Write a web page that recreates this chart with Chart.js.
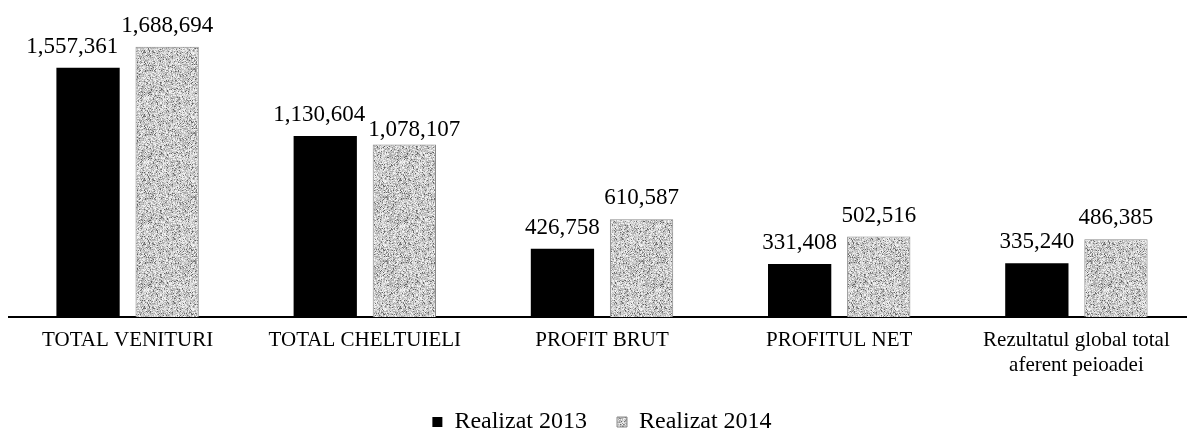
<!DOCTYPE html>
<html>
<head>
<meta charset="utf-8">
<script src="https://cdn.jsdelivr.net/npm/chart.js@4.4.1/dist/chart.umd.min.js"></script>
<style>
  html, body { margin: 0; padding: 0; background: #fff; overflow: hidden; }
  #wrap { width: 1195px; height: 432px; }
</style>
</head>
<body>
<div id="wrap"><canvas id="chart" width="1195" height="432"></canvas></div>
<script>
const categories = ['TOTAL VENITURI', 'TOTAL CHELTUIELI', 'PROFIT BRUT', 'PROFITUL NET', ['Rezultatul global total', 'aferent peioadei']];
const realizat2013 = [1557361, 1130604, 426758, 331408, 335240];
const realizat2014 = [1688694, 1078107, 610587, 502516, 486385];
const seriesLabels = ['Realizat 2013', 'Realizat 2014'];

const SERIF = '"Liberation Serif", "Times New Roman", serif';
const fmt = (v) => new Intl.NumberFormat('en-US').format(v);

// speckled grey fill, like the scanned hatch of the 2014 bars
function speckle() {
  const c = document.createElement('canvas');
  c.width = 64; c.height = 64;
  const g = c.getContext('2d');
  const img = g.createImageData(64, 64);
  const hash = (x, y) => {
    let h = Math.imul(x, 374761393) + Math.imul(y, 668265263) | 0;
    h = Math.imul(h ^ (h >>> 13), 1274126177);
    return ((h ^ (h >>> 16)) >>> 0) / 4294967296;
  };
  for (let y = 0; y < 64; y++) {
    for (let x = 0; x < 64; x++) {
      const r = hash(x, y);
      const v = r < 0.12 ? 90 + r * 500 : 165 + (r - 0.12) * 95;
      const i = (y * 64 + x) * 4;
      img.data[i] = img.data[i + 1] = img.data[i + 2] = v;
      img.data[i + 3] = 255;
    }
  }
  g.putImageData(img, 0, 0);
  return g.createPattern(c, 'repeat');
}

// value labels above bars, nudged apart when the pair collides
const valueLabels = {
  id: 'valueLabels',
  afterDatasetsDraw(chart) {
    const ctx = chart.ctx;
    const m0 = chart.getDatasetMeta(0);
    const m1 = chart.getDatasetMeta(1);
    ctx.save();
    ctx.font = '23px ' + SERIF;
    ctx.fillStyle = '#000';
    ctx.textAlign = 'left';
    ctx.textBaseline = 'alphabetic';
    m0.data.forEach((b0, i) => {
      const b1 = m1.data[i];
      const t0 = fmt(realizat2013[i]);
      const t1 = fmt(realizat2014[i]);
      const w0 = ctx.measureText(t0).width;
      const w1 = ctx.measureText(t1).width;
      let x0 = b0.x - w0 / 2, y0 = b0.y - 15;
      let x1 = b1.x - w1 / 2, y1 = b1.y - 15;
      const over = x0 + w0 + 3 - x1;
      if (Math.abs(y0 - y1) < 17 && over > 0) {
        const s = Math.min(6, over / 2);
        x0 -= s;
        x1 += over - s;
        y1 = b1.y - 8;
      } else if (over > 0) {
        x0 -= over;
      }
      ctx.fillText(t0, x0, y0);
      ctx.fillText(t1, x1, y1);
    });
    ctx.restore();
  }
};

const ctx = document.getElementById('chart').getContext('2d');
new Chart(ctx, {
  type: 'bar',
  data: {
    labels: categories,
    datasets: [
      { label: seriesLabels[0], data: realizat2013, backgroundColor: '#000', borderWidth: 0 },
      { label: seriesLabels[1], data: realizat2014, backgroundColor: speckle(), borderColor: '#8a8a8a', borderWidth: 1, borderSkipped: 'bottom' }
    ]
  },
  options: {
    responsive: false,
    animation: false,
    layout: { padding: { left: 9, top: 0, right: 0, bottom: 0 } },
    datasets: { bar: { categoryPercentage: 0.667, barPercentage: 0.8 } },
    plugins: {
      legend: {
        position: 'bottom',
        maxHeight: 52,
        labels: { font: { family: SERIF, size: 24 }, color: '#000', boxWidth: 10, boxHeight: 10, padding: 30 }
      },
      tooltip: { enabled: false }
    },
    scales: {
      x: {
        grid: { display: false, drawTicks: false },
        border: { display: true, color: '#000', width: 2 },
        ticks: { font: { family: SERIF, size: 21 }, color: '#000', padding: 11, maxRotation: 0, autoSkip: false },
        afterFit: (s) => { s.height = 63; }
      },
      y: { display: false, min: 0, max: 1980000 }
    }
  },
  plugins: [valueLabels]
});
</script>
</body>
</html>
